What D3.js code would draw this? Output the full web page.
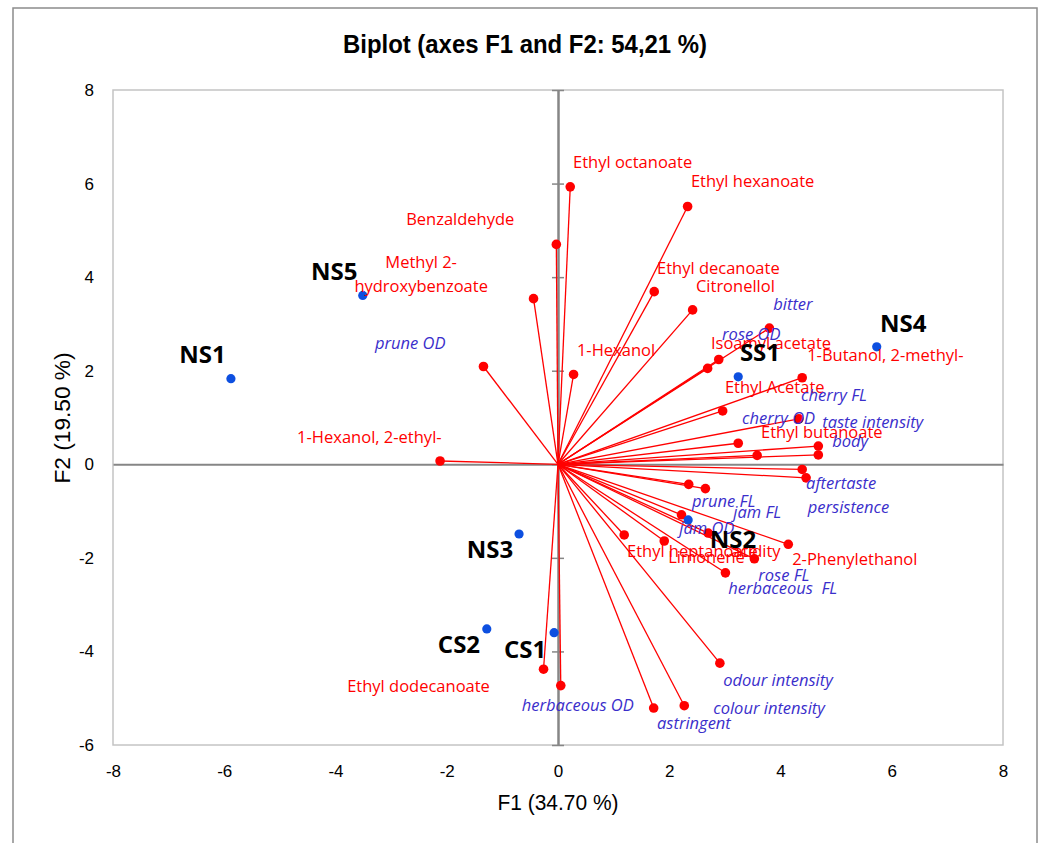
<!DOCTYPE html>
<html>
<head>
<meta charset="utf-8">
<script src="https://cdn.jsdelivr.net/npm/d3@7"></script>
<style>
  body { margin: 0; background: #fff; }
  .tickLb text { font-family: "Liberation Sans", Arial, sans-serif; font-size: 17px; fill: #000; }
  .varLb { font-family: "Open Sans", sans-serif; font-size: 16.5px; white-space: pre; }
  .obsLb { font-family: "Open Sans", sans-serif; font-size: 24px; font-weight: bold; fill: #000; }
</style>
</head>
<body>
<div id="main"></div>
<script>
var ctx = {
    w: 1043,
    h: 843,
    left: 113, right: 1003, top: 90, bottom: 745,
    red: "#ff0000",
    blue: "#0d4fe0",
    sensBlue: "#3a2ecb",
    axisGrey: "#868686"
};

// tick values of both axes
var xTicks = [-8, -6, -4, -2, 0, 2, 4, 6, 8];
var yTicks = [-6, -4, -2, 0, 2, 4, 6, 8];

// observations (wines)
var obsNames = ["NS1", "NS5", "NS4", "SS1", "NS3", "NS2", "CS2", "CS1"];
var obsF1 = [-5.88, -3.51, 5.73, 3.24, -0.70, 2.34, -1.28, -0.07];
var obsF2 = [1.83, 3.61, 2.51, 1.87, -1.49, -1.19, -3.52, -3.60];
// where the label sits, in F1/F2 units
var obsLabelF1 = [-6.81, -4.44, 5.79, 3.27, -1.64, 2.73, -2.16, -0.97];
var obsLabelF2 = [2.34, 4.11, 3.00, 2.38, -1.83, -1.60, -3.86, -3.97];

// variables: c = volatile compound, s = sensory attribute
var varNames = ["Ethyl octanoate", "Ethyl hexanoate", "Benzaldehyde", "Methyl 2-\nhydroxybenzoate",
    "Ethyl decanoate", "Citronellol", "bitter", "rose OD", "Isoamyl acetate", "1-Hexanol",
    "1-Butanol, 2-methyl-", "Ethyl Acetate", "cherry FL", "cherry OD", "taste intensity",
    "Ethyl butanoate", "body", "aftertaste", "persistence", "prune FL", "jam FL", "jam OD",
    "acidity", "Ethyl heptanoate", "Limonene", "2-Phenylethanol", "rose FL", "herbaceous  FL",
    "odour intensity", "colour intensity", "astringent", "herbaceous OD", "Ethyl dodecanoate",
    "prune OD", "1-Hexanol, 2-ethyl-"];
var varF1 = [0.22, 2.33, -0.03, -0.44, 1.73, 2.42, 3.80, 2.89, 2.69, 0.28,
    4.39, 2.96, 4.33, 3.24, 4.68, 3.58, 4.68, 4.39, 4.46, 2.35, 2.65, 2.22,
    2.70, 1.19, 1.91, 4.14, 3.53, 3.01, 2.91, 2.27, 1.72, 0.05, -0.26, -1.34, -2.12];
var varF2 = [5.93, 5.51, 4.70, 3.54, 3.69, 3.30, 2.91, 2.24, 2.05, 1.92,
    1.85, 1.14, 0.97, 0.45, 0.39, 0.19, 0.20, -0.11, -0.29, -0.43, -0.52, -1.08,
    -1.47, -1.51, -1.64, -1.71, -2.02, -2.32, -4.25, -5.16, -5.21, -4.73, -4.38, 2.09, 0.07];
var varKind = ["c", "c", "c", "c", "c", "c", "s", "s", "c", "c",
    "c", "c", "s", "s", "s", "c", "s", "s", "s", "s", "s", "s",
    "c", "c", "c", "c", "s", "s", "s", "s", "s", "s", "c", "s", "c"];
var varLabelF1 = [0.27, 2.39, -2.73, -2.46, 1.78, 2.48, 3.87, 2.95, 2.75, 0.34,
    4.48, 3.00, 4.37, 3.31, 4.75, 3.65, 4.93, 4.46, 4.49, 2.41, 3.15, 2.18,
    3.11, 1.24, 1.98, 4.21, 3.60, 3.06, 2.97, 2.79, 1.78, -0.65, -3.79, -3.29, -4.69];
var varLabelF2 = [6.46, 6.05, 5.24, 4.06, 4.20, 3.81, 3.43, 2.78, 2.59, 2.44,
    2.34, 1.65, 1.48, 0.99, 0.90, 0.69, 0.50, -0.40, -0.91, -0.78, -1.02, -1.36,
    -1.85, -1.85, -1.98, -2.02, -2.37, -2.64, -4.61, -5.21, -5.53, -5.16, -4.74, 2.59, 0.58];

var initSVGcanvas = function(svg){
    ctx.xScale = d3.scaleLinear().domain([-8, 8]).range([ctx.left, ctx.right]);
    ctx.yScale = d3.scaleLinear().domain([-6, 8]).range([ctx.bottom, ctx.top]);
    var x = ctx.xScale, y = ctx.yScale;

    // outer chart frame (bottom edge is off the picture)
    svg.append("rect")
       .attr("x", 13).attr("y", 8)
       .attr("width", 1024).attr("height", 900)
       .attr("fill", "none").attr("stroke", "#8c8c8c").attr("stroke-width", 1.5);

    // plot area frame
    svg.append("rect")
       .attr("x", ctx.left).attr("y", ctx.top)
       .attr("width", ctx.right - ctx.left).attr("height", ctx.bottom - ctx.top)
       .attr("fill", "none").attr("stroke", "#c4c4c4").attr("stroke-width", 1.5);

    // vertical zero axis with crossing ticks
    [d3.axisLeft(y), d3.axisRight(y)].forEach(function(ax){
        svg.append("g")
           .attr("class", "zeroAx")
           .attr("transform", `translate(${x(0)},0)`)
           .call(ax.tickValues(yTicks).tickSize(6).tickSizeOuter(0).tickFormat(""));
    });
    // horizontal zero axis, no ticks
    svg.append("g")
       .attr("class", "zeroAx")
       .attr("transform", `translate(0,${y(0)})`)
       .call(d3.axisBottom(x).tickValues([]).tickSizeOuter(0));
    svg.selectAll(".zeroAx path").attr("stroke", ctx.axisGrey).attr("stroke-width", 2);
    svg.selectAll(".zeroAx line").attr("stroke", ctx.axisGrey).attr("stroke-width", 1.5);

    // tick labels at the plot edges
    var fmt = function(d){ return String(d); };
    svg.append("g")
       .attr("class", "tickLb")
       .attr("transform", `translate(${ctx.left},0)`)
       .call(d3.axisLeft(y).tickValues(yTicks).tickFormat(fmt).tickSize(0).tickPadding(19))
       .call(g => g.select(".domain").remove());
    svg.append("g")
       .attr("class", "tickLb")
       .attr("transform", `translate(0,${ctx.bottom})`)
       .call(d3.axisBottom(x).tickValues(xTicks).tickFormat(fmt).tickSize(0).tickPadding(20))
       .call(g => g.select(".domain").remove());
    svg.selectAll(".tickLb text").attr("font-family", null).attr("font-size", null);

    // title
    svg.append("text")
       .attr("x", 525).attr("y", 53)
       .attr("text-anchor", "middle")
       .attr("textLength", 364).attr("lengthAdjust", "spacingAndGlyphs")
       .style("font-family", "'Liberation Sans', Arial, sans-serif")
       .style("font-size", "26px").style("font-weight", "bold")
       .text("Biplot (axes F1 and F2: 54,21 %)");

    // axis titles
    svg.append("text")
       .attr("x", 558).attr("y", 810)
       .attr("text-anchor", "middle")
       .attr("textLength", 121).attr("lengthAdjust", "spacingAndGlyphs")
       .style("font-family", "'Liberation Sans', Arial, sans-serif")
       .style("font-size", "22px")
       .text("F1 (34.70 %)");
    svg.append("text")
       .attr("transform", "translate(70,418) rotate(-90)")
       .attr("text-anchor", "middle")
       .attr("textLength", 131).attr("lengthAdjust", "spacingAndGlyphs")
       .style("font-family", "'Liberation Sans', Arial, sans-serif")
       .style("font-size", "22px")
       .text("F2 (19.50 %)");
};

var populateSVGcanvas = function(svg){
    var x = ctx.xScale, y = ctx.yScale;
    var vars = varNames.map(function(n, i){
        return {name: n, f1: varF1[i], f2: varF2[i], kind: varKind[i],
                lx: varLabelF1[i], ly: varLabelF2[i]};
    });
    var obs = obsNames.map(function(n, i){
        return {name: n, f1: obsF1[i], f2: obsF2[i], lx: obsLabelF1[i], ly: obsLabelF2[i]};
    });

    // vectors from the origin
    svg.append("g").selectAll("line")
       .data(vars).enter().append("line")
       .attr("x1", x(0)).attr("y1", y(0))
       .attr("x2", d => x(d.f1)).attr("y2", d => y(d.f2))
       .attr("stroke", ctx.red).attr("stroke-width", 1.3);

    svg.append("g").selectAll("circle")
       .data(vars).enter().append("circle")
       .attr("cx", d => x(d.f1)).attr("cy", d => y(d.f2))
       .attr("r", 4.8).attr("fill", ctx.red);

    svg.append("g").selectAll("circle")
       .data(obs).enter().append("circle")
       .attr("cx", d => x(d.f1)).attr("cy", d => y(d.f2))
       .attr("r", 4.6).attr("fill", ctx.blue);

    // variable labels
    var lb = svg.append("g").selectAll("text")
       .data(vars).enter().append("text")
       .attr("class", "varLb")
       .attr("x", d => x(d.lx)).attr("y", d => y(d.ly))
       .attr("text-anchor", d => d.name.indexOf("\n") >= 0 ? "middle" : "start")
       .attr("fill", d => d.kind == "s" ? ctx.sensBlue : ctx.red)
       .style("font-style", d => d.kind == "s" ? "italic" : "normal");
    lb.each(function(d){
        var lines = d.name.split("\n");
        var t = d3.select(this);
        lines.forEach(function(s, k){
            t.append("tspan")
             .attr("x", x(d.lx))
             .attr("dy", k == 0 ? (0.35 - (lines.length - 1) * 0.73) + "em" : "1.46em")
             .text(s);
        });
    });

    // observation labels
    svg.append("g").selectAll("text")
       .data(obs).enter().append("text")
       .attr("class", "obsLb")
       .attr("x", d => x(d.lx)).attr("y", d => y(d.ly))
       .attr("dy", "0.35em")
       .text(d => d.name);
};

var createViz = function(){
    var svgEl = d3.select("#main").append("svg");
    svgEl.attr("width", ctx.w);
    svgEl.attr("height", ctx.h);
    var rootG = svgEl.append("g").attr("id", "rootG");
    initSVGcanvas(rootG);
    populateSVGcanvas(rootG);
};

createViz();
</script>
</body>
</html>
